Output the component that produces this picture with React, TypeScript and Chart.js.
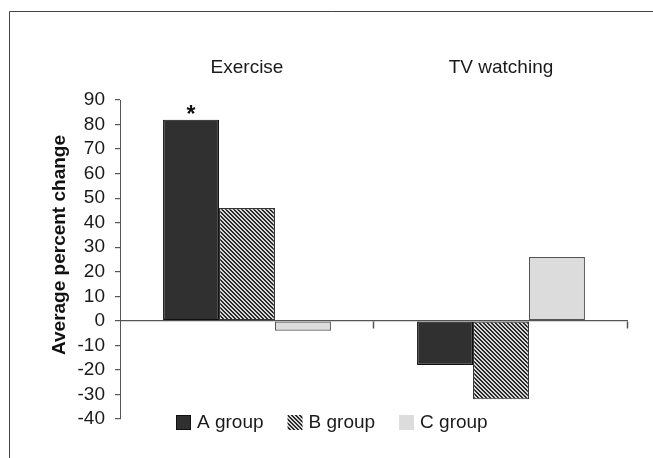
import React, { useEffect, useRef } from 'react';
import { Chart, registerables } from 'chart.js';

Chart.register(...registerables);

const categories = ['Exercise', 'TV watching'];
const groupLabels = ['A group', 'B group', 'C group'];
const aGroup = [82, -18];
const bGroup = [46, -32];
const cGroup = [-4, 26];
const aMarkers = ['*', ''];
const yMin = -40;
const yMax = 90;
const yStep = 10;
const yTitle = 'Average percent change';

const FONT = '"Liberation Sans", Arial, Helvetica, sans-serif';

function makeHatch(): CanvasPattern | string {
  const c = document.createElement('canvas');
  c.width = 4;
  c.height = 4;
  const g = c.getContext('2d');
  if (!g) return '#888';
  g.fillStyle = '#d6d6d6';
  g.fillRect(0, 0, 4, 4);
  g.fillStyle = '#2a2a2a';
  for (let y = 0; y < 4; y++) {
    for (let x = 0; x < 4; x++) {
      if ((((x - y) % 4) + 4) % 4 < 2) g.fillRect(x, y, 1, 1);
    }
  }
  return g.createPattern(c, 'repeat') || '#888';
}

export default function App() {
  const ref = useRef<HTMLCanvasElement>(null);

  useEffect(() => {
    if (!ref.current) return;
    const hatch = makeHatch();
    const fills: any[] = ['#303030', hatch, '#dcdcdc'];
    const borders = ['#111111', '#333333', '#555555'];

    const decorPlugin = {
      id: 'decor',
      beforeDraw(chart: any) {
        const ctx = chart.ctx;
        ctx.save();
        ctx.strokeStyle = '#444';
        ctx.lineWidth = 1;
        ctx.beginPath();
        ctx.moveTo(9.5, chart.height);
        ctx.lineTo(9.5, 11.5);
        ctx.lineTo(chart.width, 11.5);
        ctx.stroke();
        ctx.restore();
      },
      afterDraw(chart: any) {
        const ctx = chart.ctx;
        const ys = chart.scales.y;
        const area = chart.chartArea;
        ctx.save();
        // category boundary ticks below zero line
        const zeroY = Math.round(ys.getPixelForValue(0)) + 0.5;
        ctx.strokeStyle = '#555';
        ctx.lineWidth = 1.5;
        const n = categories.length;
        for (let i = 1; i <= n; i++) {
          const bx = Math.round(area.left + (i * (area.right - area.left)) / n) - 0.5;
          ctx.beginPath();
          ctx.moveTo(bx, zeroY);
          ctx.lineTo(bx, zeroY + 7);
          ctx.stroke();
        }
        // significance markers
        const meta = chart.getDatasetMeta(0);
        ctx.fillStyle = '#111';
        ctx.font = `bold 23px ${FONT}`;
        ctx.textAlign = 'center';
        ctx.textBaseline = 'bottom';
        meta.data.forEach((bar: any, i: number) => {
          if (aMarkers[i]) ctx.fillText(aMarkers[i], bar.x, bar.y + 8);
        });
        // y title
        ctx.save();
        ctx.translate(60, 245);
        ctx.rotate(-Math.PI / 2);
        ctx.font = `bold 19px ${FONT}`;
        ctx.textAlign = 'center';
        ctx.textBaseline = 'middle';
        ctx.fillStyle = '#111';
        ctx.fillText(yTitle, 0, 0);
        ctx.restore();
        // legend
        let lx = 176;
        const boxTop = 415;
        ctx.font = `19px ${FONT}`;
        ctx.textAlign = 'left';
        ctx.textBaseline = 'middle';
        groupLabels.forEach((lab, i) => {
          ctx.fillStyle = fills[i];
          ctx.fillRect(lx, boxTop, 15, 15);
          if (i === 0) {
            ctx.strokeStyle = '#111';
            ctx.lineWidth = 1;
            ctx.strokeRect(lx + 0.5, boxTop + 0.5, 14, 14);
          }
          ctx.fillStyle = '#1a1a1a';
          ctx.fillText(lab, lx + 21, boxTop + 8);
          lx += 21 + ctx.measureText(lab).width + 24;
        });
        ctx.restore();
      },
    };

    const chart = new Chart(ref.current, {
      type: 'bar',
      data: {
        labels: categories,
        datasets: [aGroup, bGroup, cGroup].map((d, i) => ({
          label: groupLabels[i],
          data: d,
          backgroundColor: fills[i],
          borderColor: borders[i],
          borderWidth: 1.2,
          borderSkipped: false,
          barPercentage: 1,
          categoryPercentage: 0.661,
        })),
      },
      options: {
        animation: false,
        responsive: false,
        maintainAspectRatio: false,
        layout: { padding: { left: 0, right: 25, top: 0, bottom: 39 } },
        plugins: {
          legend: { display: false },
          tooltip: { enabled: false },
        },
        scales: {
          x: {
            position: 'top',
            grid: { display: false, drawTicks: false },
            border: { display: false },
            ticks: {
              padding: 21,
              color: '#1a1a1a',
              font: { family: FONT, size: 19 },
            },
            afterFit(scale: any) {
              scale.height = 100;
            },
          },
          y: {
            min: yMin,
            max: yMax,
            border: { display: true, color: '#555', width: 1 },
            grid: {
              drawOnChartArea: true,
              drawTicks: true,
              tickLength: 5,
              tickColor: '#555',
              color: (c: any) => (c.tick && c.tick.value === 0 ? '#555' : 'rgba(0,0,0,0)'),
              lineWidth: 1.2,
            },
            ticks: {
              stepSize: yStep,
              autoSkip: false,
              padding: 10,
              color: '#1a1a1a',
              font: { family: FONT, size: 19 },
            },
            afterFit(scale: any) {
              scale.width = 120;
            },
          },
        },
      } as any,
      plugins: [decorPlugin],
    });
    return () => chart.destroy();
  }, []);

  return (
    <div style={{ position: 'fixed', left: 0, top: 0, width: 653, height: 458, background: '#fff' }}>
      <canvas ref={ref} width={653} height={458} style={{ width: 653, height: 458, display: 'block' }} />
    </div>
  );
}
